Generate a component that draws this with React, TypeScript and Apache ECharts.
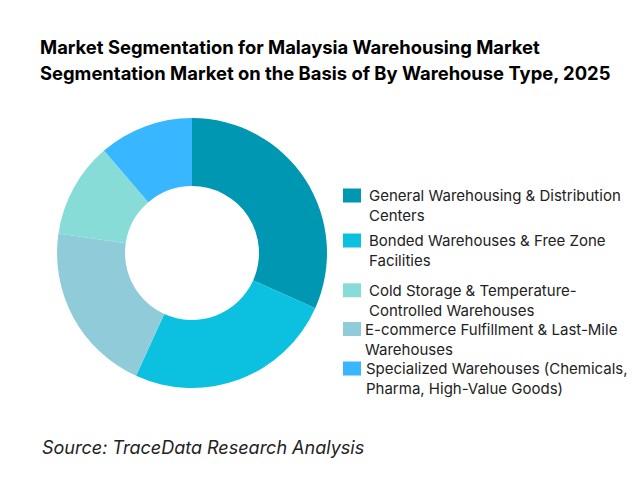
import React, { useEffect, useRef } from "react";
import * as echarts from "echarts";

const categories = [
  "General Warehousing & Distribution Centers",
  "Bonded Warehouses & Free Zone Facilities",
  "E-commerce Fulfillment & Last-Mile Warehouses",
  "Cold Storage & Temperature-Controlled Warehouses",
  "Specialized Warehouses (Chemicals, Pharma, High-Value Goods)",
];
const shares = [31.7, 25.1, 20.5, 11.4, 11.3];
const colors = ["#0097B2", "#0CC0DF", "#8FCBD9", "#88DCD8", "#38B6FF"];
const legendOrder = [0, 1, 3, 2, 4];
const legendLabels: Record<string, string> = {
  [categories[0]]: "General Warehousing & Distribution\nCenters",
  [categories[1]]: "Bonded Warehouses & Free Zone\nFacilities",
  [categories[2]]: "E-commerce Fulfillment & Last-Mile\nWarehouses",
  [categories[3]]: "Cold Storage & Temperature-\nControlled Warehouses",
  [categories[4]]: "Specialized Warehouses (Chemicals,\nPharma, High-Value Goods)",
};
const legendTops = [165.5, 210.5, 260.3, 299.0, 338.5];
const legendPadLeft = [3, 3, 3, -1, 0];

export default function App() {
  const ref = useRef<HTMLDivElement>(null);
  useEffect(() => {
    if (!ref.current) return;
    const chart = echarts.init(ref.current, undefined, { renderer: "svg" });
    const font = "Inter, 'Noto Sans', sans-serif";
    chart.setOption({
      animation: false,
      backgroundColor: "#ffffff",
      color: colors,
      title: [
        {
          text: "Market Segmentation for Malaysia Warehousing Market\nSegmentation Market on the Basis of By Warehouse Type, 2025",
          left: 40,
          top: 34,
          padding: 0,
          textStyle: {
            fontFamily: font,
            fontWeight: "bold",
            fontSize: 18.4,
            lineHeight: 26,
            color: "#000000",
          },
        },
        {
          text: "Source: TraceData Research Analysis",
          left: 42,
          top: 436,
          padding: 0,
          textStyle: {
            fontFamily: font,
            fontStyle: "italic",
            fontWeight: "normal",
            fontSize: 18,
            lineHeight: 22,
            color: "#222222",
          },
        },
      ],
      legend: legendOrder.map((ci, i) => ({
        data: [categories[ci]],
        left: 343,
        top: legendTops[i],
        padding: 0,
        orient: "vertical",
        icon: "rect",
        itemWidth: 18,
        itemHeight: 14,
        selectedMode: false,
        formatter: (name: string) => " \n" + (legendLabels[name] || name),
        textStyle: {
          fontFamily: font,
          fontSize: 15,
          lineHeight: 20,
          color: "#222222",
          padding: [0, 0, 0, legendPadLeft[i]],
        },
      })),
      series: [
        {
          type: "pie",
          center: [192, 253],
          radius: [67, 135],
          startAngle: 90,
          clockwise: true,
          label: { show: false },
          labelLine: { show: false },
          emphasis: { disabled: true },
          itemStyle: { borderWidth: 0 },
          data: categories.map((name, i) => ({ name, value: shares[i] })),
        },
      ],
    });
    return () => chart.dispose();
  }, []);
  return (
    <div
      ref={ref}
      style={{ position: "absolute", left: 0, top: 0, width: 640, height: 480 }}
    />
  );
}
